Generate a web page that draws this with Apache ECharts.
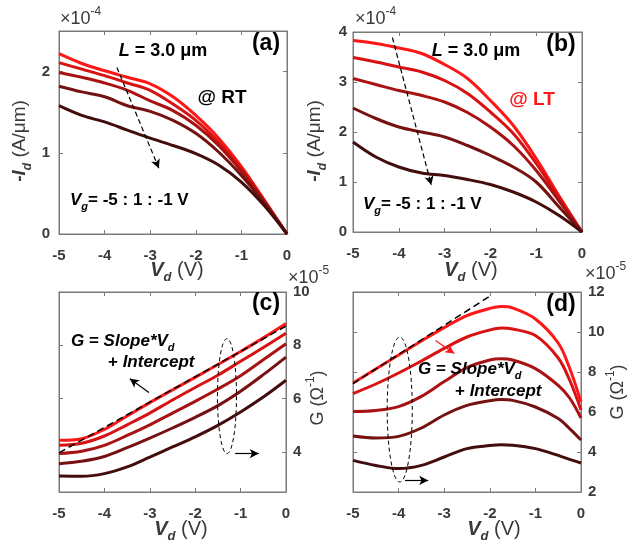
<!DOCTYPE html>
<html>
<head>
<meta charset="utf-8">
<script src="https://cdn.jsdelivr.net/npm/echarts@6/dist/echarts.min.js"></script>
<style>
  html, body { margin: 0; padding: 0; background: #fff; }
  #chart { width: 636px; height: 548px; }
</style>
</head>
<body>
<div id="chart"></div>
<script>
// drain voltage samples (V)
const vd = [-5, -4.5, -4, -3.5, -3, -2.5, -2, -1.5, -1, -0.5, 0];
const vdLT = [-5, -4.5, -4, -3.5, -3, -2.5, -2, -1.75, -1.5, -1, -0.5, -0.25, 0];

// (a) -Id @ RT, x1e-4 A/um, Vg = -5 ... -1 V
const idRT1 = [2.22, 2.10, 2.01, 1.93, 1.85, 1.69, 1.46, 1.18, 0.83, 0.42, 0];
const idRT2 = [2.11, 2.03, 1.95, 1.86, 1.77, 1.60, 1.40, 1.13, 0.80, 0.41, 0];
const idRT3 = [1.99, 1.93, 1.86, 1.77, 1.64, 1.52, 1.34, 1.09, 0.77, 0.40, 0];
const idRT4 = [1.82, 1.75, 1.69, 1.58, 1.51, 1.40, 1.24, 1.01, 0.72, 0.38, 0];
const idRT5 = [1.58, 1.46, 1.38, 1.28, 1.18, 1.09, 0.99, 0.85, 0.64, 0.35, 0];

// (b) -Id @ LT, x1e-4 A/um
const idLT1 = [3.83, 3.77, 3.68, 3.57, 3.35, 3.07, 2.63, 2.13, 1.47, 0.72, 0];
const idLT2 = [3.49, 3.40, 3.30, 3.20, 3.03, 2.77, 2.40, 1.97, 1.37, 0.68, 0];
const idLT3 = [3.07, 2.95, 2.83, 2.73, 2.60, 2.39, 2.10, 1.73, 1.23, 0.62, 0];
const idLT4 = [2.48, 2.27, 2.10, 2.00, 1.90, 1.73, 1.53, 1.30, 1.00, 0.50, 0];
const idLT5 = [1.80, 1.50, 1.30, 1.18, 1.13, 1.05, 0.95, 0.80, 0.60, 0.33, 0];

// (c) G @ RT, x1e-5 1/Ohm
const gRT1 = [4.44, 4.50, 4.85, 5.35, 5.85, 6.33, 6.80, 7.28, 7.77, 8.28, 8.82];
const gRT2 = [4.25, 4.33, 4.60, 5.02, 5.46, 5.95, 6.42, 6.88, 7.40, 7.92, 8.45];
const gRT3 = [3.94, 4.03, 4.25, 4.62, 5.02, 5.46, 5.90, 6.36, 6.86, 7.46, 8.06];
const gRT4 = [3.56, 3.65, 3.83, 4.16, 4.52, 4.90, 5.30, 5.74, 6.28, 6.90, 7.56];
const gRT5 = [3.10, 3.09, 3.19, 3.44, 3.81, 4.19, 4.57, 5.00, 5.50, 6.06, 6.69];

// (d) G @ LT, x1e-5 1/Ohm
const gLT1 = [7.45, 8.15, 8.85, 9.55, 10.22, 10.82, 11.18, 11.27, 11.20, 10.65, 9.45, 8.20, 6.50];
const gLT2 = [6.92, 7.40, 7.95, 8.55, 9.18, 9.75, 10.10, 10.20, 10.15, 9.82, 8.70, 7.60, 6.10];
const gLT3 = [6.03, 6.08, 6.27, 6.78, 7.52, 8.22, 8.60, 8.66, 8.60, 8.17, 7.33, 6.70, 5.70];
const gLT4 = [4.80, 4.70, 4.78, 5.20, 5.85, 6.33, 6.56, 6.62, 6.58, 6.25, 5.67, 5.17, 4.60];
const gLT5 = [3.58, 3.33, 3.17, 3.33, 3.75, 4.17, 4.32, 4.36, 4.34, 4.17, 3.83, 3.63, 3.45];

// linear fits G = Slope*Vd + Intercept
const fitRT = [[-5, 3.97], [0, 8.72]];
const fitLT = [[-5, 7.42], [-1.96, 11.85]];

// tick labels
const yTicksA = [0, 1, 2];
const yTicksB = [0, 1, 2, 3, 4];
const yTicksC = [4, 6, 8, 10];
const yTicksD = [2, 4, 6, 8, 10, 12];

const curveColors = ['#ff1616', '#d81212', '#a81212', '#761111', '#440d0d'];
const FONT = 'Arial, "Liberation Sans", sans-serif';
const AXC = '#7a7a7a';
const LBL = '#3a3a3a';

const chart = echarts.init(document.getElementById('chart'));

const grids = [
  { left: 59, top: 31, width: 228, height: 203 },
  { left: 353, top: 32, width: 229, height: 200 },
  { left: 59, top: 292, width: 227, height: 200 },
  { left: 353, top: 292, width: 228, height: 200 }
];

function xAxes(gi) {
  const base = {
    type: 'value', gridIndex: gi, min: -5, max: 0, interval: 1,
    axisLine: { show: true, onZero: false, lineStyle: { color: AXC } },
    axisTick: { show: true, inside: true, length: 4, lineStyle: { color: AXC } },
    splitLine: { show: false }
  };
  return [
    Object.assign({}, base, {
      position: 'bottom',
      axisLabel: { show: true, margin: 14, color: LBL, fontSize: 15, fontWeight: 'bold', fontFamily: FONT }
    }),
    Object.assign({}, base, { position: 'top', axisLabel: { show: false } })
  ];
}

function yAxes(gi, min, max, ticks, side, margin) {
  const base = {
    type: 'value', gridIndex: gi, min: min, max: max,
    axisLine: { show: true, onZero: false, lineStyle: { color: AXC } },
    splitLine: { show: false }
  };
  return [
    Object.assign({}, base, {
      position: side,
      axisTick: { show: true, inside: true, length: 4, customValues: ticks, lineStyle: { color: AXC } },
      axisLabel: { show: true, customValues: ticks, margin: margin, color: LBL, fontSize: 15, fontWeight: 'bold', fontFamily: FONT }
    }),
    Object.assign({}, base, {
      position: side === 'left' ? 'right' : 'left',
      axisTick: { show: true, inside: true, length: 4, customValues: ticks, lineStyle: { color: AXC } },
      axisLabel: { show: false }
    })
  ];
}

function curves(gi, xs, sets) {
  return sets.map((arr, k) => ({
    type: 'line', xAxisIndex: 2 * gi, yAxisIndex: 2 * gi,
    data: xs.map((x, i) => [x, arr[i]]),
    smooth: 0.35, showSymbol: false, silent: true,
    lineStyle: { width: 3, color: curveColors[k] }
  }));
}

function arrows(gi, list) {
  return {
    type: 'line', xAxisIndex: 2 * gi, yAxisIndex: 2 * gi, data: [], silent: true,
    markLine: {
      silent: true, symbol: ['none', 'arrow'], symbolSize: [7, 9],
      label: { show: false },
      data: list.map(a => [
        { coord: a.from, lineStyle: { color: a.color, type: a.dash ? [5, 3] : 'solid', width: 1.2 }, itemStyle: { color: a.color } },
        { coord: a.to }
      ])
    }
  };
}

function fitLine(gi, pts) {
  return {
    type: 'line', xAxisIndex: 2 * gi, yAxisIndex: 2 * gi, data: pts, silent: true,
    showSymbol: false, z: 5,
    lineStyle: { color: '#000', width: 1.5, type: [7, 4] }
  };
}

const option = {
  animation: false,
  backgroundColor: '#fff',
  grid: grids.map(g => Object.assign({ show: true, borderColor: AXC, borderWidth: 1, backgroundColor: 'transparent' }, g)),
  xAxis: [].concat(xAxes(0), xAxes(1), xAxes(2), xAxes(3)),
  yAxis: [].concat(
    yAxes(0, 0, 2.5, yTicksA, 'left', 9),
    yAxes(1, 0, 4, yTicksB, 'left', 6),
    yAxes(2, 2.5, 10, yTicksC, 'right', 7),
    yAxes(3, 2, 12, yTicksD, 'right', 7)
  ),
  series: [].concat(
    curves(0, vd, [idRT1, idRT2, idRT3, idRT4, idRT5]),
    curves(1, vd, [idLT1, idLT2, idLT3, idLT4, idLT5]),
    curves(2, vd, [gRT1, gRT2, gRT3, gRT4, gRT5]),
    curves(3, vdLT, [gLT1, gLT2, gLT3, gLT4, gLT5]),
    [fitLine(2, fitRT), fitLine(3, fitLT)],
    [
      arrows(0, [{ from: [-3.73, 2.05], to: [-2.81, 0.81], color: '#000', dash: true }]),
      arrows(1, [{ from: [-4.14, 3.89], to: [-3.29, 0.94], color: '#000', dash: true }]),
      arrows(2, [
        { from: [-3.02, 6.23], to: [-3.44, 6.75], color: '#000' },
        { from: [-1.12, 3.94], to: [-0.6, 3.94], color: '#000' }
      ]),
      arrows(3, [
        { from: [-3.86, 2.58], to: [-3.35, 2.58], color: '#000' },
        { from: [-3.19, 9.58], to: [-2.78, 8.92], color: '#ff1616' }
      ])
    ]
  )
};
chart.setOption(option);

// text helpers
function rich(sz) {
  const s = Math.round(sz * 0.65);
  return {
    bi: { fontSize: sz, fontWeight: 'bold', fontStyle: 'italic', fontFamily: FONT, lineHeight: sz + 8 },
    b: { fontSize: sz, fontWeight: 'bold', fontFamily: FONT, lineHeight: sz + 8 },
    n: { fontSize: sz, fontFamily: FONT, lineHeight: sz + 8 },
    sb: { fontSize: s, fontWeight: 'bold', fontStyle: 'italic', fontFamily: FONT, lineHeight: s, verticalAlign: 'bottom' },
    sp: { fontSize: s, fontFamily: FONT, lineHeight: s, verticalAlign: 'top' }
  };
}
function txt(x, y, text, sz, opts) {
  opts = opts || {};
  return {
    type: 'text', x: x, y: y, rotation: opts.rot || 0, z: 100, silent: true,
    style: {
      text: text, rich: rich(sz), fill: opts.fill || '#000',
      align: opts.align || 'center', verticalAlign: 'middle'
    }
  };
}

function px(gi, pt) {
  return chart.convertToPixel({ xAxisIndex: 2 * gi, yAxisIndex: 2 * gi }, pt);
}
function ellipse(gi, x0, x1, y0, y1) {
  const p0 = px(gi, [x0, y0]);
  const p1 = px(gi, [x1, y1]);
  return {
    type: 'ellipse', z: 90, silent: true,
    shape: { cx: (p0[0] + p1[0]) / 2, cy: (p0[1] + p1[1]) / 2, rx: Math.abs(p1[0] - p0[0]) / 2, ry: Math.abs(p1[1] - p0[1]) / 2 },
    style: { fill: 'none', stroke: '#000', lineWidth: 1, lineDash: [4, 3] }
  };
}

const graphics = [
  // (a)
  txt(60, 19, '{n|×10}{sp|-4}', 18, { align: 'left', fill: LBL }),
  txt(163, 51, '{bi|L}{b| = 3.0 μm}', 18),
  txt(266, 44, '{b|(a)}', 23),
  txt(222, 98, '{b|@ RT}', 19),
  txt(70, 200, '{bi|V}{sb|g}{b|= -5 : 1 : -1 V}', 17, { align: 'left' }),
  txt(20, 141, '{b|-}{bi|I}{sb|d}{n| (A/μm)}', 19, { rot: Math.PI / 2, fill: LBL }),
  txt(177, 270, '{bi|V}{sb|d}{n| (V)}', 20, { fill: LBL }),
  // (b)
  txt(355, 19, '{n|×10}{sp|-4}', 18, { align: 'left', fill: LBL }),
  txt(476, 51, '{bi|L}{b| = 3.0 μm}', 18),
  txt(561, 45, '{b|(b)}', 23),
  txt(532, 100, '{b|@ LT}', 19, { fill: '#ff1616' }),
  txt(363, 204, '{bi|V}{sb|g}{b|= -5 : 1 : -1 V}', 17, { align: 'left' }),
  txt(315, 141, '{b|-}{bi|I}{sb|d}{n| (A/μm)}', 19, { rot: Math.PI / 2, fill: LBL }),
  txt(471, 270, '{bi|V}{sb|d}{n| (V)}', 20, { fill: LBL }),
  // (c)
  txt(288, 278, '{n|×10}{sp|-5}', 18, { align: 'left', fill: LBL }),
  txt(266, 304, '{b|(c)}', 23),
  txt(71, 341, '{bi|G}{b| = }{bi|Slope*V}{sb|d}', 17, { align: 'left' }),
  txt(108, 362, '{b|+ }{bi|Intercept}', 17, { align: 'left' }),
  txt(318, 398, '{n|G (Ω}{sp|-1}{n|)}', 18, { rot: Math.PI / 2, fill: LBL }),
  txt(181, 529, '{bi|V}{sb|d}{n| (V)}', 20, { fill: LBL }),
  // (d)
  txt(585, 274, '{n|×10}{sp|-5}', 18, { align: 'left', fill: LBL }),
  txt(561, 305, '{b|(d)}', 23),
  txt(418, 369, '{bi|G}{b| = }{bi|Slope*V}{sb|d}', 17, { align: 'left' }),
  txt(455, 391, '{b|+ }{bi|Intercept}', 17, { align: 'left' }),
  txt(618, 392, '{n|G (Ω}{sp|-1}{n|)}', 18, { rot: Math.PI / 2, fill: LBL }),
  txt(494, 529, '{bi|V}{sb|d}{n| (V)}', 20, { fill: LBL }),
  // dashed ellipses grouping the curves
  ellipse(2, -1.51, -1.09, 3.94, 8.25),
  ellipse(3, -4.25, -3.70, 2.5, 9.75)
];
chart.setOption({ graphic: graphics });
</script>
</body>
</html>
